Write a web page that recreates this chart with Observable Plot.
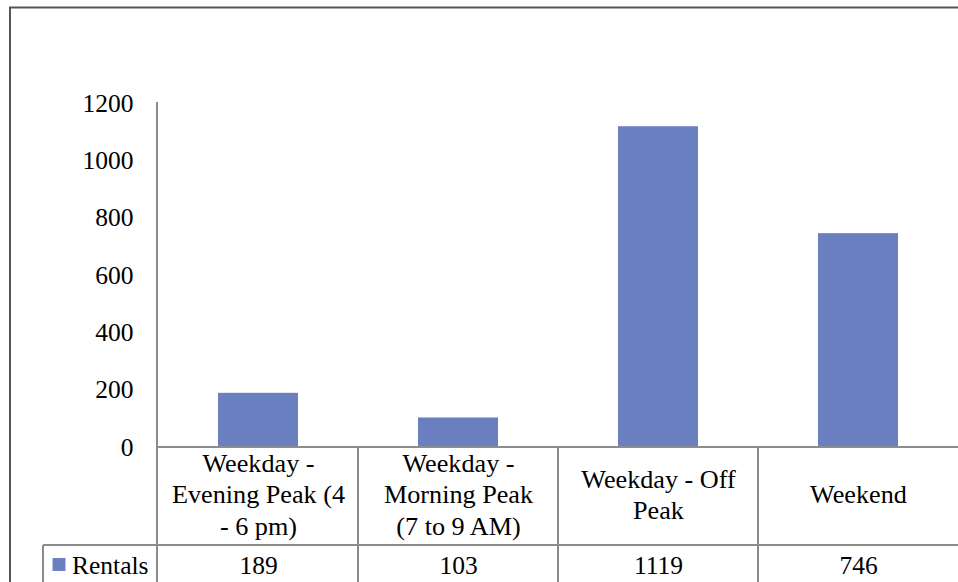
<!DOCTYPE html>
<html><head><meta charset="utf-8">
<script src="https://cdn.jsdelivr.net/npm/d3@7"></script>
<script src="https://cdn.jsdelivr.net/npm/@observablehq/plot@0.6"></script>
<style>
body{margin:0;background:#fff}
#chart svg, #chart svg text {font-family: "Liberation Serif", "Times New Roman", serif !important;}
</style>
</head><body><div id="chart"></div>
<script>
const categories = ["Weekday - Evening Peak (4 - 6 pm)", "Weekday - Morning Peak (7 to 9 AM)", "Weekday - Off Peak", "Weekend"];
const categoryLabels = ["Weekday -\nEvening Peak (4\n- 6 pm)", "Weekday -\nMorning Peak\n(7 to 9 AM)", "Weekday - Off\nPeak", "Weekend"];
const rentals = [189, 103, 1119, 746];
const seriesName = "Rentals";
const yTicks = [0, 200, 400, 600, 800, 1000, 1200];

const data = categories.map((c, i) => ({category: c, label: categoryLabels[i], value: rentals[i]}));

const W = 958, H = 582;
const labelRowH = 98;
const gridColor = "#8c8c8c";
const frameColor = "#555555";
const barColor = "#6a7fc0";
const fs = 25.5;
const fsCat = 26.2;
const font = "Liberation Serif";

function tableGrid(index, scales, values, dimensions) {
  const {x} = scales;
  const {width, height, marginLeft, marginRight, marginBottom, marginTop} = dimensions;
  const y0 = height - marginBottom;
  const bw = x.bandwidth();
  const step = x.step ? x.step() : (width - marginLeft - marginRight) / categories.length;
  const g = d3.create("svg:g").attr("fill", "none");
  const grid = g.append("g").attr("stroke", gridColor).attr("stroke-width", 2);
  grid.append("line").attr("x1", marginLeft).attr("x2", marginLeft).attr("y1", marginTop - 1).attr("y2", height);
  grid.append("line").attr("x1", marginLeft).attr("x2", width).attr("y1", y0).attr("y2", y0);
  const rowY = y0 + labelRowH;
  grid.append("line").attr("x1", 43).attr("x2", width).attr("y1", rowY).attr("y2", rowY);
  grid.append("line").attr("x1", 43).attr("x2", 43).attr("y1", rowY).attr("y2", height);
  categories.slice(1).forEach(c => {
    const xx = x(c) - (step - bw) / 2;
    grid.append("line").attr("x1", xx).attr("x2", xx).attr("y1", y0).attr("y2", height);
  });
  g.append("path").attr("d", `M10,${height}V7.5H${width}`).attr("stroke", frameColor).attr("stroke-width", 2);
  return g.node();
}

const chart = Plot.plot({
  width: W,
  height: H,
  marginLeft: 157,
  marginRight: 0,
  marginTop: 103,
  marginBottom: 135,
  style: {fontFamily: font, fontSize: fs + "px", color: "black", background: "white"},
  x: {domain: categories, paddingInner: 0.6, paddingOuter: 0.3, axis: null},
  y: {domain: [0, 1200], label: null},
  marks: [
    Plot.barY(data, {x: "category", y: "value", fill: barColor}),
    tableGrid,
    Plot.axisY(yTicks, {tickSize: 0, tickPadding: 24, fontSize: fs, tickFormat: d => String(d), fill: "black", label: null}),
    Plot.text(data, {x: "category", text: "label", frameAnchor: "bottom", dy: 46, lineAnchor: "middle", lineHeight: 1.19, fontSize: fsCat, fontFamily: font, fill: "black"}),
    Plot.text(data, {x: "category", text: d => String(d.value), frameAnchor: "bottom", dy: 118, lineAnchor: "middle", fontSize: fs, fontFamily: font, fill: "black"}),
    Plot.dot([seriesName], {frameAnchor: "bottom-left", dx: -98.5, dy: 117, symbol: "square", r: 7.3, fill: barColor}),
    Plot.text([seriesName], {frameAnchor: "bottom-left", text: d => d, dx: -9, dy: 118, textAnchor: "end", lineAnchor: "middle", fontSize: fs, fontFamily: font, fill: "black"})
  ]
});
document.getElementById("chart").appendChild(chart);
</script>
</body></html>
